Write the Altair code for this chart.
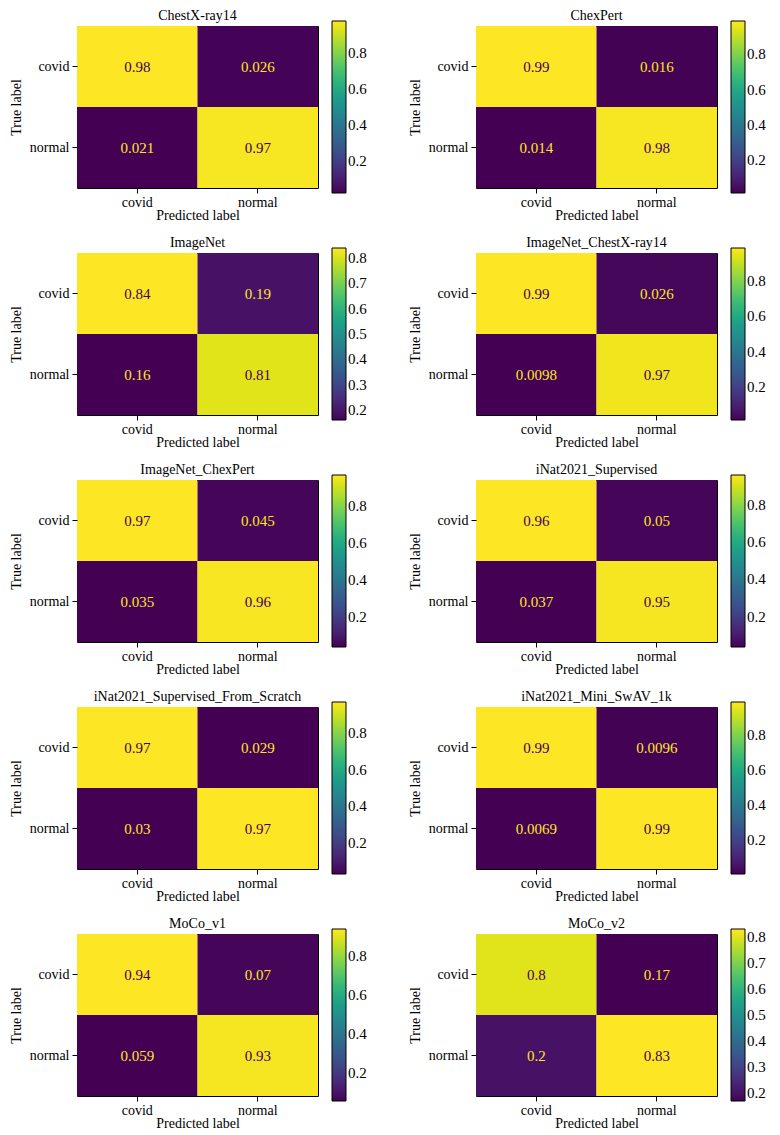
import altair as alt
import pandas as pd

titles = ["ChestX-ray14", "ChexPert", "ImageNet", "ImageNet_ChestX-ray14",
          "ImageNet_ChexPert", "iNat2021_Supervised",
          "iNat2021_Supervised_From_Scratch", "iNat2021_Mini_SwAV_1k",
          "MoCo_v1", "MoCo_v2"]
classes = ["covid", "normal"]
covid_covid = [0.98, 0.99, 0.84, 0.99, 0.97, 0.96, 0.97, 0.99, 0.94, 0.8]
covid_normal = [0.026, 0.016, 0.19, 0.026, 0.045, 0.05, 0.029, 0.0096, 0.07, 0.17]
normal_covid = [0.021, 0.014, 0.16, 0.0098, 0.035, 0.037, 0.03, 0.0069, 0.059, 0.2]
normal_normal = [0.97, 0.98, 0.81, 0.97, 0.96, 0.95, 0.97, 0.99, 0.93, 0.83]
ticks_a = [0.2, 0.4, 0.6, 0.8]
ticks_b = [0.2, 0.3, 0.4, 0.5, 0.6, 0.7, 0.8]
cbar_ticks = [ticks_a, ticks_a, ticks_b, ticks_a, ticks_a,
              ticks_a, ticks_a, ticks_a, ticks_a, ticks_b]

FONT = "Liberation Serif"
W, H = 241, 162
VIR_LO, VIR_HI = "#440154", "#fde725"


def panel(i):
    vals = [covid_covid[i], covid_normal[i], normal_covid[i], normal_normal[i]]
    lo, hi = min(vals), max(vals)
    thr = (lo + hi) / 2
    df = pd.DataFrame({
        "true": ["covid", "covid", "normal", "normal"],
        "pred": ["covid", "normal", "covid", "normal"],
        "v": vals,
        "label": [str(v) for v in vals],
        "tc": [VIR_HI if v < thr else VIR_LO for v in vals],
    })
    base = alt.Chart(df).encode(
        x=alt.X("pred:N", sort=classes, title="Predicted label",
                scale=alt.Scale(paddingInner=0, paddingOuter=0),
                axis=alt.Axis(labelAngle=0, titlePadding=-1, labelPadding=2,
                              labelFont=FONT, titleFont=FONT)),
        y=alt.Y("true:N", sort=classes, title="True label",
                scale=alt.Scale(paddingInner=0, paddingOuter=0),
                axis=alt.Axis(titlePadding=6, labelPadding=3,
                              labelFont=FONT, titleFont=FONT)),
    )
    rect = base.mark_rect().encode(
        color=alt.Color("v:Q",
                        scale=alt.Scale(scheme="viridis", domain=[lo, hi]),
                        legend=alt.Legend(orient="none", legendX=W + 14, legendY=-5,
                                          direction="vertical", title=None,
                                          gradientLength=H + 10,
                                          gradientThickness=14,
                                          labelFont=FONT,
                                          values=cbar_ticks[i], format=".1f"))
    )
    text = base.mark_text(font=FONT, fontSize=15).encode(
        text="label:N",
        fill=alt.Fill("tc:N", scale=None),
    )
    return alt.layer(rect, text).properties(
        width=W, height=H,
        title=alt.TitleParams(titles[i], font=FONT, fontSize=14,
                              fontWeight="normal", offset=-2, color="black"),
    )


rows = []
for r in range(5):
    row = alt.hconcat(panel(2 * r), panel(2 * r + 1), spacing=39) \
        .resolve_scale(color="independent").resolve_legend(color="independent")
    rows.append(row)

chart = alt.vconcat(*rows, spacing=12) \
    .resolve_scale(color="independent").resolve_legend(color="independent") \
    .properties(padding={"left": 0, "top": 0, "right": 0, "bottom": 0}) \
    .configure_view(stroke="black", strokeWidth=1) \
    .configure_axis(labelFont=FONT, titleFont=FONT, labelFontSize=14,
                    titleFontSize=14, titleFontWeight="normal",
                    labelColor="black", titleColor="black", tickColor="black",
                    tickSize=5, domain=False, grid=False) \
    .configure_legend(labelFont=FONT, labelFontSize=15, labelColor="black",
                      gradientStrokeColor="black", gradientStrokeWidth=1,
                      labelOffset=7)

chart.save("out.html", embed_options={"renderer": "svg", "actions": False})
